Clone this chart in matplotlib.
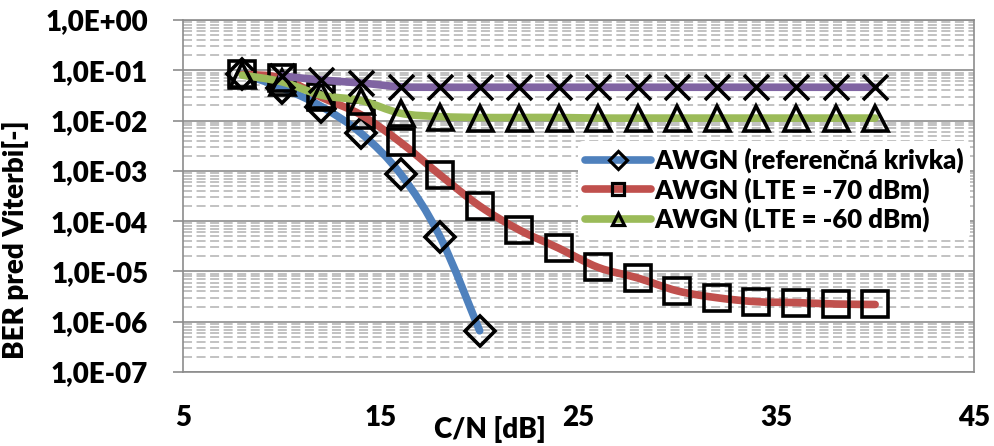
import numpy as np
import matplotlib
matplotlib.use('Agg')
import matplotlib.pyplot as plt
from matplotlib.path import Path
from matplotlib.patches import PathPatch
from matplotlib.lines import Line2D
from matplotlib.ticker import FixedLocator, LogLocator, FuncFormatter, NullFormatter

plt.rcParams['font.family'] = ['Lato', 'DejaVu Sans']
plt.rcParams['font.weight'] = 'heavy'

# data
cn_ref = [8, 10, 12, 14, 16, 18, 20]
ber_ref = [8.5e-2, 4.5e-2, 1.9e-2, 5.6e-3, 8.7e-4, 4.9e-5, 6.6e-7]

cn_70 = [8, 10, 12, 14, 16, 18, 20, 22, 24, 26, 28, 30, 32, 34, 36, 38, 40]
ber_70 = [8.3e-2, 7.0e-2, 2.9e-2, 1.3e-2, 3.7e-3, 8.3e-4, 2.0e-4, 6.7e-5, 2.9e-5,
          1.2e-5, 7.4e-6, 4.1e-6, 3.0e-6, 2.5e-6, 2.4e-6, 2.25e-6, 2.2e-6]

cn_60 = [8, 10, 12, 14, 16, 18, 20, 22, 24, 26, 28, 30, 32, 34, 36, 38, 40]
ber_60 = [8.0e-2, 5.9e-2, 3.2e-2, 2.5e-2, 1.4e-2, 1.2e-2, 1.15e-2, 1.15e-2, 1.15e-2,
          1.12e-2, 1.12e-2, 1.12e-2, 1.12e-2, 1.12e-2, 1.12e-2, 1.12e-2, 1.12e-2]

cn_50 = [10, 12, 14, 16, 18, 20, 22, 24, 26, 28, 30, 32, 34, 36, 38, 40]
ber_50 = [7.7e-2, 6.4e-2, 5.6e-2, 4.7e-2, 4.6e-2, 4.6e-2, 4.6e-2, 4.6e-2, 4.6e-2,
          4.6e-2, 4.6e-2, 4.6e-2, 4.6e-2, 4.6e-2, 4.6e-2, 4.6e-2]

labels = ['AWGN (referenčná krivka)', 'AWGN (LTE = -70 dBm)', 'AWGN (LTE = -60 dBm)']


def smooth_path(x, y):
    # Excel-like smoothed line: cubic bezier segments in (x, log y) space
    px = np.asarray(x, float)
    py = np.log10(np.asarray(y, float))
    n = len(px)
    verts = [(px[0], py[0])]
    codes = [Path.MOVETO]
    for i in range(n - 1):
        a = max(i - 1, 0)
        b = min(i + 2, n - 1)
        c1 = (px[i] + (px[i + 1] - px[a]) / 6, py[i] + (py[i + 1] - py[a]) / 6)
        c2 = (px[i + 1] - (px[b] - px[i]) / 6, py[i + 1] - (py[b] - py[i]) / 6)
        verts += [c1, c2, (px[i + 1], py[i + 1])]
        codes += [Path.CURVE4] * 3
    verts = [(vx, 10 ** vy) for vx, vy in verts]
    return Path(verts, codes)


fig = plt.figure(figsize=(9.95, 4.46), dpi=100)
ax = fig.add_axes([183 / 995, 74 / 446, 791 / 995, 352 / 446])

series = [
    (cn_ref, ber_ref, '#4F81BD', 'D', 15.5),
    (cn_70, ber_70, '#C0504D', 's', 19),
    (cn_60, ber_60, '#9BBB59', '^', 18),
    (cn_50, ber_50, '#8064A2', 'x', 18),
]

ax.set_yscale('log')
ax.set_xlim(5, 45)
ax.set_ylim(1e-7, 1)

handles = []
for k, (xs, ys, col, mk, ms) in enumerate(series):
    z = 3 + k
    patch = PathPatch(smooth_path(xs, ys), facecolor='none', edgecolor=col,
                      lw=5.5, capstyle='round', joinstyle='round', zorder=z)
    ax.add_patch(patch)
    ax.plot(xs, ys, linestyle='none', marker=mk, markersize=ms,
            markerfacecolor='none', markeredgecolor='black',
            markeredgewidth=2.6, zorder=z + 0.5)
    handles.append(Line2D([], [], color=col, lw=5.5, solid_capstyle='round',
                          marker=mk, markersize=9, markerfacecolor='none',
                          markeredgecolor='black', markeredgewidth=2.3))

# grid
ax.yaxis.set_major_locator(LogLocator(base=10, numticks=20))
ax.yaxis.set_minor_locator(LogLocator(base=10, subs=np.arange(2, 10), numticks=20))
ax.yaxis.set_minor_formatter(NullFormatter())
ax.yaxis.set_major_formatter(FuncFormatter(
    lambda v, p: '1,0E%s%02d' % ('+' if np.log10(v) >= 0 else '-', abs(int(round(np.log10(v)))))))
ax.grid(True, which='major', axis='y', color='#8C8C8C', lw=1.2, zorder=1)
ax.grid(True, which='minor', axis='y', color='#BDBDBD', lw=1.3,
        linestyle=(0, (5, 2.5)), zorder=1)
ax.set_axisbelow(True)

ax.xaxis.set_major_locator(FixedLocator([5, 15, 25, 35, 45]))
ax.tick_params(axis='x', length=0, pad=24, labelsize=20)
ax.tick_params(axis='y', which='major', length=7, width=1.2, color='#8C8C8C',
               pad=18, labelsize=20)
ax.tick_params(axis='y', which='minor', length=0)
for s in ax.spines.values():
    s.set_color('#8C8C8C')
    s.set_linewidth(1.2)

ax.set_xlabel('C/N [dB]', fontsize=20, fontweight='heavy')
ax.xaxis.set_label_coords(0.388, -0.125)
ax.set_ylabel('BER pred Viterbi[-]', fontsize=20, fontweight='heavy')
ax.yaxis.set_label_coords(-0.195, 0.375)

leg = ax.legend(handles, labels, loc='upper right', bbox_to_anchor=(0.995, 0.655),
                fontsize=18.5, frameon=True, handlelength=2.6, handletextpad=0.1,
                borderaxespad=0, borderpad=0.25, labelspacing=0.15)
leg.get_frame().set_edgecolor('none')
leg.get_frame().set_facecolor('white')
leg.get_frame().set_alpha(1)
leg.set_zorder(10)

fig.savefig('out.png', dpi=100)
